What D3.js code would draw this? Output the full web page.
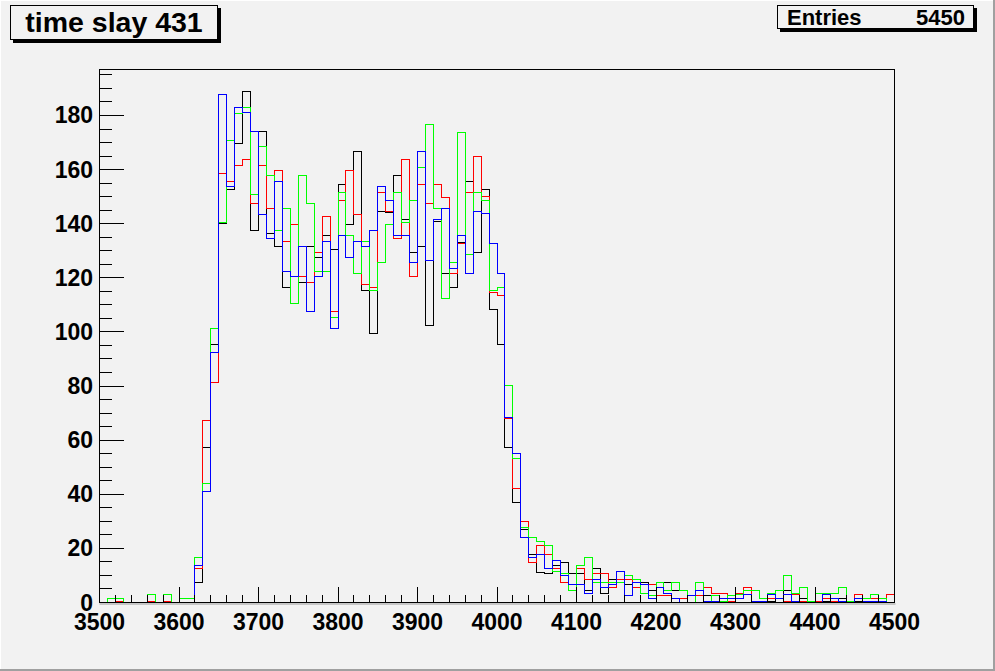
<!DOCTYPE html>
<html><head><meta charset="utf-8">
<script src="https://cdn.jsdelivr.net/npm/d3@7"></script>
<style>html,body{margin:0;padding:0;background:#f2f2f2;} svg{display:block}</style>
</head><body><svg id="c" width="995" height="671"></svg>
<script>
const xMin = 3500, xMax = 4500, binWidth = 10;
const yMax = 197;
const xTickVals = [3500,3600,3700,3800,3900,4000,4100,4200,4300,4400,4500];
const yTickVals = [0,20,40,60,80,100,120,140,160,180];
const titleText = "time slay 431";
const statsLabel = "Entries";
const statsValue = "5450";

const blackVals = [
0,0,0,0,0,0,0,0,0,0,
0,0,7.5,57.2,95.3,139.9,152.7,169.8,189,137.6,
174,136.4,131.6,116.4,120.5,118.3,131.6,127.4,135.7,130.5,
154.6,139.8,166.8,115.3,99.4,144.6,144,157.9,141.6,129.4,
131.6,102.4,141,121.6,116.4,133,155.7,129.4,152.7,108.3,
95.3,57.2,36.8,26.8,17.9,11,10.9,13.8,14.6,10.9,
10.9,4.6,12.7,3.5,8.6,8.6,6.8,7.5,7.5,4.6,
7.5,7.5,4.6,4.6,2.7,2.7,2.7,2.7,1.6,2.7,
1.6,2.8,0.5,0.5,0.5,1.6,4.6,0.5,1.6,0,
0.5,0.5,1.6,1.6,0.5,0.5,0.5,0.5,0,0];
const redVals = [
0,0,0.5,0,0,0,0.5,0,0.5,0,
0,0,12.7,67.2,81.3,158.7,155.7,161.6,163.9,147.5,
161.6,145.7,159.8,133.5,139.8,120.5,118.3,129.4,142.7,107.5,
148.7,159.8,143.5,117.6,116.4,151.6,144.6,134.6,163.9,120.5,
154.6,147.6,154.6,149.8,121.6,132.7,151.6,164.9,150,114.6,
113.5,68,42,29.8,14.6,20.9,17.9,12.7,7.5,6.8,
12.7,8.6,10.9,10.9,5.7,8.6,8.6,5.7,6.8,6.8,
2.7,2.7,1.6,1.6,2.7,2.7,5.7,3.5,3.5,0.5,
3.5,5.7,0.5,0.5,1.6,1.6,0.5,2.8,0.5,0,
0.5,1.6,0.5,0.5,0.5,2.8,1.6,1.6,0.5,2.8];
const greenVals = [
0,1.6,1.6,0,0,0,2.8,0,2.8,0,
1.6,1.6,16.8,43.9,101.3,140.5,170.9,180.9,183.1,150.9,
168.7,157.9,137.6,145.7,110.5,157.9,147.5,122.4,122.4,105.3,
151.6,135.7,121.6,133.5,115.3,125.7,139.8,151.6,140.5,148.7,
160.9,176.8,145.7,112.4,125.7,173.8,128.6,151.6,148.6,115.3,
116.4,80.1,53.1,27.9,23.9,22.7,20.9,11.6,10.9,4.6,
13.8,16.8,7.5,7.5,7.5,7.5,9.8,8.6,3.5,2.7,
7.5,4.6,7.5,4.6,0,7.5,0.5,2.7,0.5,2.7,
2.8,4.6,4.6,1.6,3.5,4.6,9.9,3.5,5.7,0.5,
3.5,3.5,3.5,5.7,0.5,1.6,1.6,2.8,1.6,0];
const blueVals = [
0,0,0,0,0,0,0,0,0,0,
0,0,13.8,40.9,92.4,187.9,153.8,183.1,181,173.9,
143.5,134.6,155.7,122.4,120.5,131.6,107.5,120.5,133.5,101.3,
135.7,127.5,133.5,131.6,137.6,153.8,148.7,135.7,135.7,125.7,
166.8,126.5,141.6,145.7,123.5,135.7,121.6,144.6,143.6,132.7,
121.6,68.3,55,23.9,16.8,17.9,12.7,15.7,9.8,6.8,
6.8,3.5,8.6,5.7,6.8,11.6,2.7,7.5,6.8,1.6,
5.7,3.5,1.6,0,2.7,4.6,0.5,0.5,1.6,1.6,
1.6,2.8,0.5,0.5,2.8,1.6,2.8,0.5,0,0,
0,2.8,1.6,0.5,0,1.6,0.5,0.5,0.5,0];

const series = [
  {vals: blackVals, color: "#000000"},
  {vals: redVals,   color: "#ff0000"},
  {vals: greenVals, color: "#00ff00"},
  {vals: blueVals,  color: "#0000ff"}
];

const W = 995, H = 671;
const fL = 99.5, fR = 894.5, fT = 69.5, fB = 602.5;
const svg = d3.select("#c");
const font = "'Liberation Sans', Arial, Helvetica, sans-serif";

// canvas background and bevel
svg.append("rect").attr("x",0).attr("y",0).attr("width",W).attr("height",H).attr("fill","#f2f2f2");
svg.append("rect").attr("x",W-2).attr("y",0).attr("width",2).attr("height",H).attr("fill","#a0a0a0");
svg.append("rect").attr("x",0).attr("y",H-2).attr("width",W).attr("height",2).attr("fill","#a0a0a0");
svg.append("rect").attr("x",0).attr("y",0).attr("width",W-2).attr("height",1).attr("fill","#ffffff");
svg.append("rect").attr("x",0).attr("y",0).attr("width",1).attr("height",H-2).attr("fill","#ffffff");

const x = d3.scaleLinear().domain([xMin, xMax]).range([fL, fR]);
const y = d3.scaleLinear().domain([0, yMax]).range([fB, fT]);

// frame
svg.append("line").attr("x1",fL).attr("x2",fR+1).attr("y1",fB+1.5).attr("y2",fB+1.5)
  .attr("stroke","#9a9a9a").attr("stroke-width",1);
svg.append("rect").attr("x",fL).attr("y",fT).attr("width",fR-fL).attr("height",fB-fT)
  .attr("fill","none").attr("stroke","#000").attr("stroke-width",1).attr("shape-rendering","crispEdges");

// histograms
const line = d3.line().x(d=>x(d[0])).y(d=>y(d[1])).curve(d3.curveStepAfter);
const g = svg.append("g").attr("shape-rendering","crispEdges");
series.forEach(s=>{
  const pts = [[xMin,0]];
  s.vals.forEach((v,i)=>pts.push([xMin+i*binWidth, v]));
  pts.push([xMax, s.vals[s.vals.length-1]]);
  pts.push([xMax, 0]);
  g.append("path").attr("d", line(pts)).attr("fill","none")
    .attr("stroke", s.color).attr("stroke-width",1);
});

// ticks
const ax = svg.append("g").attr("shape-rendering","crispEdges");
for (let v=0; v<=195; v+=5) {
  const major = v % 20 === 0;
  ax.append("line").attr("x1",fL).attr("x2",fL+(major?24:12))
    .attr("y1",y(v)).attr("y2",y(v)).attr("stroke","#000");
}
for (let v=xMin; v<=xMax; v+=20) {
  const major = v % 100 === 0;
  ax.append("line").attr("x1",x(v)).attr("x2",x(v))
    .attr("y1",fB).attr("y2",fB-(major?16:8)).attr("stroke","#000");
}
ax.append("line").attr("x1",fL).attr("x2",fR).attr("y1",fB).attr("y2",fB).attr("stroke","#000");
ax.append("line").attr("x1",fL).attr("x2",fL).attr("y1",fT).attr("y2",fB).attr("stroke","#000");

// labels
svg.append("g").selectAll("text").data(yTickVals).join("text")
  .attr("x", 93).attr("y", d=>y(d)+8).attr("text-anchor","end")
  .attr("font-family",font).attr("font-weight","bold").attr("font-size",23)
  .text(d=>d);
svg.append("g").selectAll("text").data(xTickVals).join("text")
  .attr("x", d=>x(d)).attr("y", 630).attr("text-anchor","middle")
  .attr("font-family",font).attr("font-weight","bold").attr("font-size",23)
  .text(d=>d);

// title box
svg.append("rect").attr("x",13).attr("y",8).attr("width",208).attr("height",35).attr("fill","#000");
svg.append("rect").attr("x",10.5).attr("y",5.5).attr("width",207).attr("height",34)
  .attr("fill","#f2f2f2").attr("stroke","#000").attr("stroke-width",1);
svg.append("text").attr("x",114).attr("y",32).attr("text-anchor","middle")
  .attr("font-family",font).attr("font-weight","bold").attr("font-size",28.5).text(titleText);

// stats box
svg.append("rect").attr("x",780).attr("y",8).attr("width",197).attr("height",24).attr("fill","#000");
svg.append("rect").attr("x",777.5).attr("y",5.5).attr("width",196).attr("height",23)
  .attr("fill","#f2f2f2").attr("stroke","#000").attr("stroke-width",1);
svg.append("text").attr("x",787).attr("y",25).attr("font-family",font).attr("font-weight","bold")
  .attr("font-size",22).text(statsLabel);
svg.append("text").attr("x",965).attr("y",25).attr("text-anchor","end").attr("font-family",font)
  .attr("font-weight","bold").attr("font-size",22).text(statsValue);
</script>
</body></html>
